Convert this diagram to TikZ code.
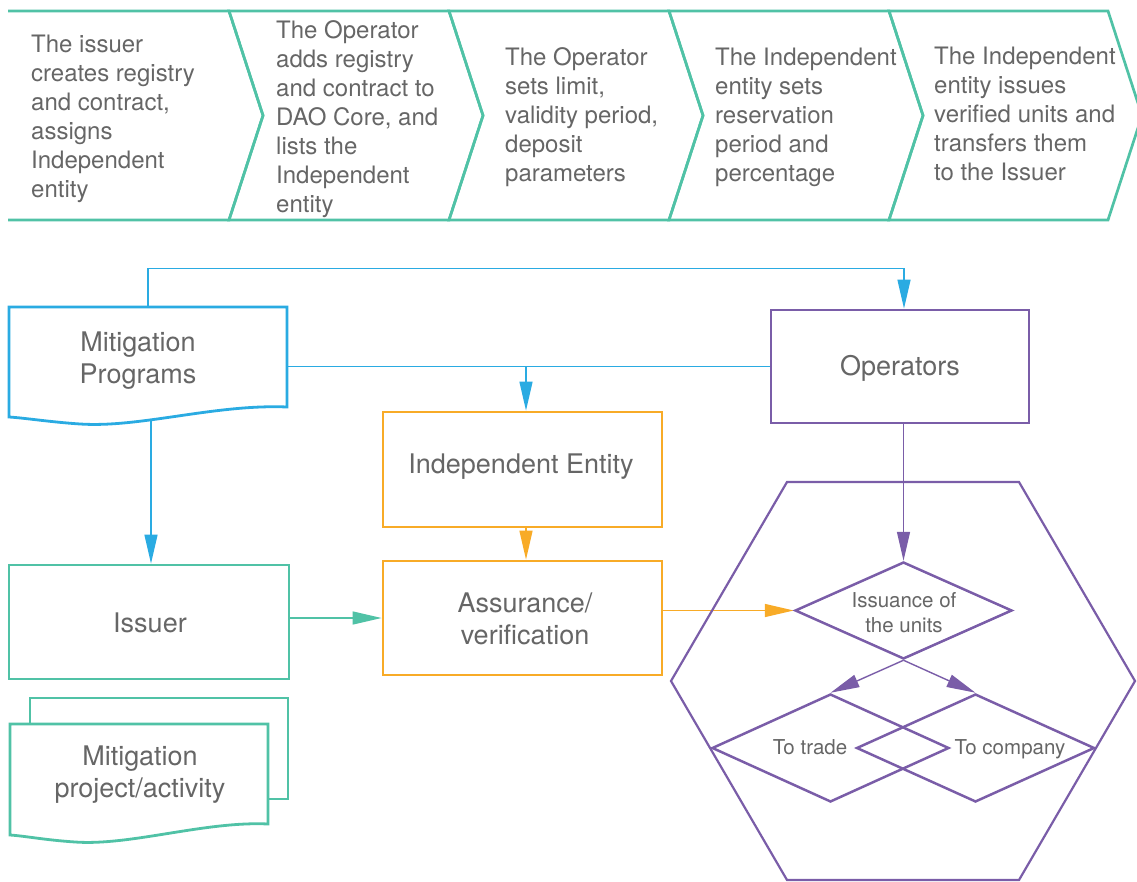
\documentclass[tikz,border=0pt]{standalone}
\usepackage{fontspec}
\setmainfont{TeX Gyre Heros}
\usetikzlibrary{arrows.meta,shapes.geometric}
\definecolor{tealc}{HTML}{50C2A6}
\definecolor{bluec}{HTML}{2AABE2}
\definecolor{orc}{HTML}{F8AB27}
\definecolor{purc}{HTML}{7A5DA8}
\definecolor{txtc}{HTML}{666666}
\pgfdeclarelayer{bg}
\pgfsetlayers{bg,main}
\begin{document}
\begin{tikzpicture}[x=1pt,y=-1pt,
  chevline/.style={draw=tealc,line width=2.7pt,line join=miter},
  ctext/.style={anchor=west,align=left,inner sep=0pt,text=txtc,font=\fontsize{24}{29}\selectfont},
  boxnode/.style={draw=#1,line width=2.8pt,fill=white,inner sep=0pt},
  docshape/.style={draw=#1,line width=2.8pt,fill=white,line join=miter},
  mtext/.style={inner sep=0pt,text=txtc,font=\fontsize{27}{32}\selectfont,align=center},
  stext/.style={inner sep=0pt,text=txtc,font=\fontsize{20.5}{25}\selectfont,align=center},
  conn/.style={line width=1.4pt,draw=#1},
  arr/.style={-{Triangle[length=29pt,width=13pt]}},
  dia/.style={shape=diamond,draw=purc,line width=2.5pt,inner sep=0pt},
]
\useasboundingbox (0,0) rectangle (1137,882);

% ---- chevron process row ----
\draw[chevline] (8,11) -- (229,11) -- (263,115.5) -- (229,220) -- (8,220);
\draw[chevline] (229,11) -- (449,11) -- (483,115.5) -- (449,220) -- (229,220) -- (263,115.5) -- cycle;
\draw[chevline] (449,11) -- (669,11) -- (703,115.5) -- (669,220) -- (449,220) -- (483,115.5) -- cycle;
\draw[chevline] (669,11) -- (889,11) -- (923,115.5) -- (889,220) -- (669,220) -- (703,115.5) -- cycle;
\draw[chevline] (889,11) -- (1108,11) -- (1142,115.5) -- (1108,220) -- (889,220) -- (923,115.5) -- cycle;

\node[ctext] (c1t) at (31,118.4) {The issuer\\creates registry\\and contract,\\assigns\\Independent\\entity};
\node[ctext] (c2t) at (276,118.9) {The Operator\\adds registry\\and contract to\\DAO Core, and\\lists the\\Independent\\entity};
\node[ctext] (c3t) at (505,116.9) {The Operator\\sets limit,\\validity period,\\deposit\\parameters};
\node[ctext] (c4t) at (715,116.9) {The Independent\\entity sets\\reservation\\period and\\percentage};
\node[ctext] (c5t) at (934,114.4) {The Independent\\entity issues\\verified units and\\transfers them\\to the Issuer};

% ---- Mitigation Programs (document) ----
\draw[docshape=bluec] (9,307) -- (287,307) -- (287,407)
  .. controls (215,404) and (140,428) .. (80,424)
  .. controls (50,422) and (25,418) .. (9,417) -- cycle;
\node[minimum width=278pt,minimum height=110pt,inner sep=0pt] (mp) at (148,362) {};
\node[mtext] (mpt) at (138,360.2) {Mitigation\\Programs};

% ---- Mitigation project/activity (multi-document) ----
\draw[draw=tealc,line width=2.8pt,line join=miter] (30,724) -- (30,698) -- (288,698) -- (288,799) -- (268,799);
\draw[docshape=tealc] (10,724) -- (268,724) -- (268,824)
  .. controls (205,821) and (130,846) .. (75,842)
  .. controls (45,840) and (25,836) .. (10,835) -- cycle;
\node[mtext] (mpa) at (140,774.2) {Mitigation\\project/activity};

% ---- boxes ----
\node[boxnode=purc,minimum width=258pt,minimum height=113pt] (ops) at (900,366.5) {};
\node[mtext,anchor=base] (opst) at (900,375) {Operators};

\node[boxnode=orc,minimum width=279pt,minimum height=115pt] (ie) at (522.5,469.5) {};
\node[mtext,anchor=base] (iet) at (521,473) {Independent Entity};

\node[boxnode=orc,minimum width=279pt,minimum height=114pt] (av) at (522.5,618) {};
\node[mtext] (avt) at (525,618.4) {Assurance/\\verification};

\node[boxnode=tealc,minimum width=280pt,minimum height=114pt] (iss) at (149,622) {};
\node[mtext,anchor=base] (isst) at (150,632) {Issuer};

% ---- hexagon container ----
\draw[draw=purc,line width=2.2pt,line join=miter] (787,482) -- (1019,482) -- (1135,681) -- (1019,880) -- (787,880) -- (671,681) -- cycle;

% ---- diamonds ----
\node[dia,minimum width=217pt,minimum height=97pt] (dI) at (903.5,610.5) {};
\node[stext] (dIt) at (904,612.2) {Issuance of\\the units};
\node[dia,minimum width=237pt,minimum height=108pt] (dT) at (830.5,748) {};
\node[dia,minimum width=238pt,minimum height=108pt] (dC) at (975.5,748) {};
\node[stext,anchor=base] (dTt) at (810,754) {To trade};
\node[stext,anchor=base] (dCt) at (1010,754) {To company};

% ---- connectors ----
\begin{pgfonlayer}{bg}
\draw[conn=bluec,arr] (mp.north) -- ++(0,-38) -| ([xshift=4pt]ops.north);
\draw[conn=bluec] (mp.east |- ops.west) -- (ops.west);
\draw[conn=bluec,arr] ([xshift=3.5pt]ie.north |- ops.west) -- ([xshift=3.5pt]ie.north);
\draw[conn=bluec,arr] ([xshift=2pt]iss.north |- mp.south) -- ([xshift=2pt]iss.north);
\draw[conn=orc,arr] ([xshift=3.5pt]ie.south) -- ([xshift=3.5pt]av.north);
\draw[conn=tealc,arr] (iss.east |- av.west) -- (av.west);
\draw[conn=orc,arr] (av.east |- dI.west) -- (dI.west);
\draw[conn=purc,arr] (dI.north |- ops.south) -- (dI.north);
\draw[conn=purc,arr] (dI.south) -- (dT.north);
\draw[conn=purc,arr] (dI.south) -- (dC.north);
\end{pgfonlayer}
\end{tikzpicture}
\end{document}
